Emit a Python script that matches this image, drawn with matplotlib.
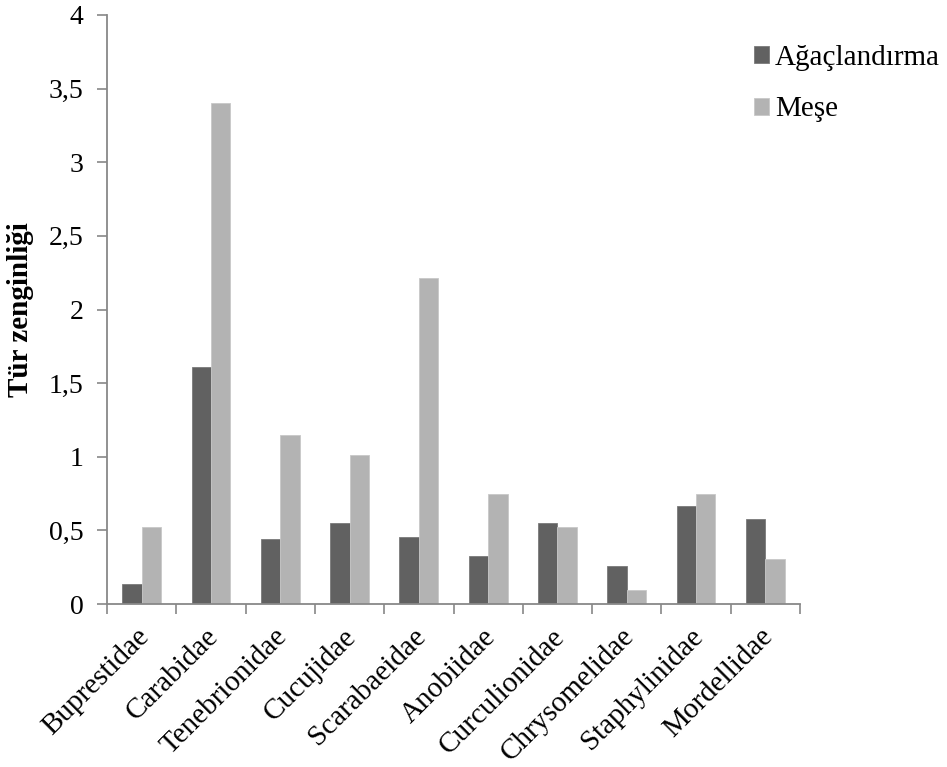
import matplotlib.pyplot as plt
import numpy as np
from matplotlib.transforms import ScaledTranslation

# font settings
plt.rcParams["font.family"] = ["Liberation Serif", "DejaVu Serif"]
plt.rcParams["font.size"] = 20

# data
families = ["Buprestidae", "Carabidae", "Tenebrionidae", "Cucujidae", "Scarabaeidae",
            "Anobiidae", "Curculionidae", "Chrysomelidae", "Staphylinidae", "Mordellidae"]
agaclandirma = [0.137, 1.608, 0.443, 0.553, 0.454, 0.328, 0.552, 0.258, 0.663, 0.579]
mese = [0.523, 3.401, 1.149, 1.009, 2.217, 0.745, 0.523, 0.093, 0.745, 0.303]
series_names = ["Ağaçlandırma", "Meşe"]
y_ticks = [0, 0.5, 1, 1.5, 2, 2.5, 3, 3.5, 4]
y_tick_labels = ["0", "0,5", "1", "1,5", "2", "2,5", "3", "3,5", "4"]

fig = plt.figure(figsize=(9.47, 7.67), dpi=100)
ax = fig.add_axes([107 / 947, 163 / 767, 693 / 947, 589 / 767])

x = np.arange(len(families))
w = 0.28
ax.bar(x - w / 2, agaclandirma, w, color="#616161", edgecolor="#7a7a7a", linewidth=0.6,
       label=series_names[0])
ax.bar(x + w / 2, mese, w, color="#b3b3b3", edgecolor="#c8c8c8", linewidth=0.6,
       label=series_names[1])

ax.set_xlim(-0.5, len(families) - 0.5)
ax.set_ylim(0, 4)
ax.set_yticks(y_ticks)
ax.set_yticklabels(y_tick_labels)

# labels at group centres, ticks on group boundaries
ax.set_xticks(x)
ax.set_xticklabels(families, rotation=45, ha="right", rotation_mode="anchor", fontsize=21)
ax.set_xticks(np.arange(len(families) + 1) - 0.5, minor=True)
ax.tick_params(axis="x", which="major", length=0, pad=14)
ax.tick_params(axis="x", which="minor", length=7, width=1.2, color="#888888")
ax.tick_params(axis="y", length=7, width=1.2, color="#888888", pad=10)

# nudge rotated labels a little to the left (after tick_params, which resets transforms)
shift = ScaledTranslation(-0.06, 0, fig.dpi_scale_trans)
for lbl in ax.get_xticklabels():
    lbl.set_transform(lbl.get_transform() + shift)

for s in ["top", "right"]:
    ax.spines[s].set_visible(False)
for s in ["left", "bottom"]:
    ax.spines[s].set_color("#888888")
    ax.spines[s].set_linewidth(1.3)

ax.set_ylabel("Tür zenginliği", fontweight="bold", fontsize=21)
ax.yaxis.set_label_coords(-0.105, 0.5)

fig.legend(loc="upper left", bbox_to_anchor=(754 / 947, 1 - 45 / 767), frameon=False,
           fontsize=21, borderpad=0, borderaxespad=0,
           handlelength=0.52, handleheight=0.52, handletextpad=0.2, labelspacing=0.87)

fig.savefig("out.png", dpi=100)
